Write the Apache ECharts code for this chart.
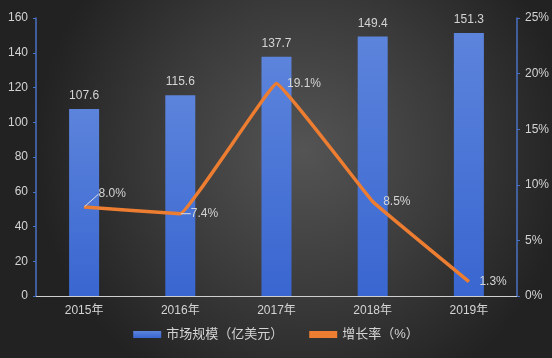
<!DOCTYPE html>
<html><head><meta charset="utf-8">
<script src="https://cdn.jsdelivr.net/npm/echarts@6/dist/echarts.min.js"></script>
<style>html,body{margin:0;padding:0;}#c{width:552px;height:358px;}</style>
</head><body><div id="c"></div>
<script>
var categories = ['2015年','2016年','2017年','2018年','2019年'];
var marketSize = [107.6, 115.6, 137.7, 149.4, 151.3];
var growthRate = [8.0, 7.4, 19.1, 8.5, 1.3];
var barName = '市场规模（亿美元）';
var lineName = '增长率（%）';

var chart = echarts.init(document.getElementById('c'));
var txt = '#d4d4d4';
var font = 'Liberation Sans, Noto Sans CJK SC, sans-serif';
var lineData = growthRate.map(function(v, i){
  return {value: v, labelLine: {show: i < 2}};
});
chart.setOption({
  backgroundColor: {type:'radial', x:0.55, y:0.42, r:0.75,
    colorStops:[{offset:0,color:'#545454'},{offset:0.55,color:'#3a3a3a'},{offset:1,color:'#222222'}]},
  textStyle:{fontFamily:font},
  grid:{left:36, right:35, top:18, bottom:62},
  legend:{bottom:12, left:'center', itemGap:26, itemWidth:28, itemHeight:7,
    textStyle:{color:txt, fontSize:13},
    data:[{name:barName, icon:'rect'},{name:lineName, icon:'rect', itemStyle:{color:'#ed7d31', opacity:1}}]},
  xAxis:{type:'category', data:categories,
    axisLine:{lineStyle:{color:'#cfcfcf', width:1}},
    axisTick:{show:false},
    axisLabel:{color:txt, fontSize:12, margin:9}},
  yAxis:[
    {type:'value', min:0, max:160, interval:20,
     axisLine:{show:true, lineStyle:{color:'#4a72c4', width:1.5}},
     axisTick:{show:true, length:3, lineStyle:{color:'#4a72c4'}},
     splitLine:{show:false},
     axisLabel:{color:txt, fontSize:12, margin:8}},
    {type:'value', min:0, max:25, interval:5,
     axisLine:{show:true, lineStyle:{color:'#4a72c4', width:1.5}},
     axisTick:{show:true, length:3, lineStyle:{color:'#4a72c4'}},
     splitLine:{show:false},
     axisLabel:{color:txt, fontSize:12, margin:8, formatter:'{value}%'}}
  ],
  series:[
    {name:barName, type:'bar', data:marketSize, barWidth:30,
     itemStyle:{color:{type:'linear',x:0,y:0,x2:0,y2:1,
       colorStops:[{offset:0,color:'#5c84dc'},{offset:1,color:'#3966d0'}]}},
     label:{show:true, position:'top', distance:7, color:txt, fontSize:12}},
    {name:lineName, type:'line', yAxisIndex:1, data:lineData,
     smooth:0.06, symbol:'circle', symbolSize:1, showSymbol:true,
     lineStyle:{color:'#ed7d31', width:3.5},
     itemStyle:{color:'#ed7d31'},
     label:{show:true, position:'right', distance:10, color:txt, fontSize:12,
       formatter:function(p){return p.value.toFixed(1)+'%';}},
     labelLine:{lineStyle:{color:'#e0e0e0', width:1}},
     labelLayout:function(p){
       if(p.dataIndex===0){return {dx:4, dy:-13};}
       return {};
     }}
  ]
});
</script></body></html>
